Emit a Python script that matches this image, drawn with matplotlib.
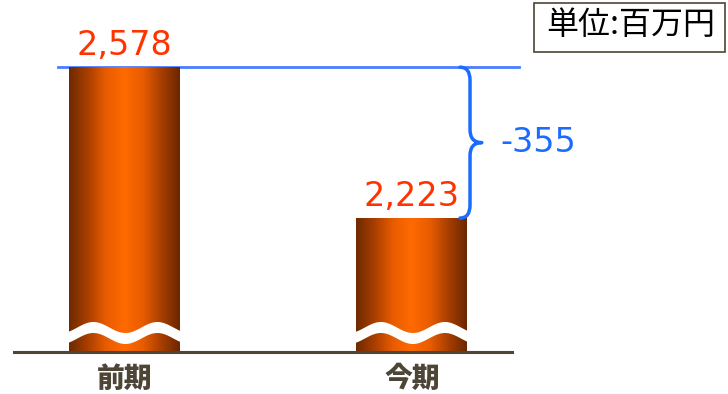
import matplotlib
matplotlib.use("Agg")
import matplotlib.pyplot as plt
import numpy as np
from matplotlib.colors import LinearSegmentedColormap
from matplotlib.patches import PathPatch, Rectangle
from matplotlib.path import Path

# データ
categories = ["前期", "今期"]
values = [2578, 2223]
unit_label = "単位:百万円"

# 配置(縦軸は途中省略: y_floor から上だけ描く)
y_floor = 1908
y_top = 2736
bar_w = 0.386
px_x = 1 / 287.5            # 横 1px あたりのデータ量
px_y = (y_top - y_floor) / 352  # 縦 1px あたりのデータ量

orange = "#ff3300"
blue = "#1a6cff"
line_blue = "#4a7dff"
dark = "#4d4636"
jp = ["Noto Sans CJK JP", "DejaVu Sans"]

bar_cmap = LinearSegmentedColormap.from_list(
    "cyl", ["#6e2a00", "#a83e00", "#e85c00", "#ff6a00", "#e85c00", "#a83e00", "#6a2700"])

fig = plt.figure(figsize=(7.28, 3.94), dpi=100)
ax = fig.add_axes([14 / 728, 42 / 394, 498 / 728, 352 / 394])

grad = np.linspace(0, 1, 256).reshape(1, -1)
for i, v in enumerate(values):
    x0, x1 = i - bar_w / 2, i + bar_w / 2
    ax.imshow(grad, cmap=bar_cmap, extent=[x0, x1, y_floor, v],
              aspect="auto", interpolation="bicubic", zorder=2)

    # 省略記号(白い波線)
    xs = np.linspace(x0 - 3 * px_x, x1 + 3 * px_x, 200)
    t = (xs - x0) / bar_w
    top = y_floor + (25 + 5.5 * np.cos(2 * np.pi * (t - 0.216) / 0.577)) * px_y
    ax.fill_between(xs, top - 11 * px_y, top, color="white", lw=0, zorder=3)

    ax.annotate(f"{v:,}", (i, v), xytext=(0, 9), textcoords="offset points",
                ha="center", va="baseline", fontsize=24, color=orange)
    ax.annotate(categories[i], (i, y_floor), xytext=(0, -19.5),
                textcoords="offset points", ha="center", va="center",
                fontsize=20, fontweight="heavy", color=dark, family=jp)

ax.axhline(y_floor, color=dark, lw=2.2, zorder=4, clip_on=False)

# 前期の高さの基準線
ax.plot([-0.231, 1.372], [values[0], values[0]], color=line_blue, lw=2,
        zorder=1, clip_on=False)

# 差分の中括弧
v1, v2 = values
mid = (v1 + v2) / 2
xl, xs_, xt = 1.167, 1.202, 1.243
r = 13 * px_y
verts = [(xl, v1), (xs_, v1), (xs_, v1 - r),
         (xs_, mid + r), (xs_, mid), (xt, mid),
         (xs_, mid), (xs_, mid - r),
         (xs_, v2 + r), (xs_, v2), (xl, v2)]
codes = [Path.MOVETO, Path.CURVE3, Path.CURVE3,
         Path.LINETO, Path.CURVE3, Path.CURVE3,
         Path.CURVE3, Path.CURVE3,
         Path.LINETO, Path.CURVE3, Path.CURVE3]
ax.add_patch(PathPatch(Path(verts, codes), fc="none", ec=blue, lw=2.5,
                       capstyle="round", joinstyle="round", zorder=5,
                       clip_on=False))
ax.text(1.306, mid, f"{v2 - v1:,}", ha="left", va="center",
        fontsize=24, color=blue, clip_on=False)

ax.set_xlim(-0.384, 1.348)
ax.set_ylim(y_floor, y_top)
ax.axis("off")

# 単位の枠
fig.patches.append(Rectangle((534 / 728, 1 - 52 / 394), 191 / 728, 49 / 394,
                             transform=fig.transFigure, fc="white", ec=dark,
                             lw=1.2))
fig.text(631 / 728, 1 - 25 / 394, unit_label, ha="center", va="center",
         fontsize=23, color="black", family=jp)

fig.savefig("out.png", dpi=100)
